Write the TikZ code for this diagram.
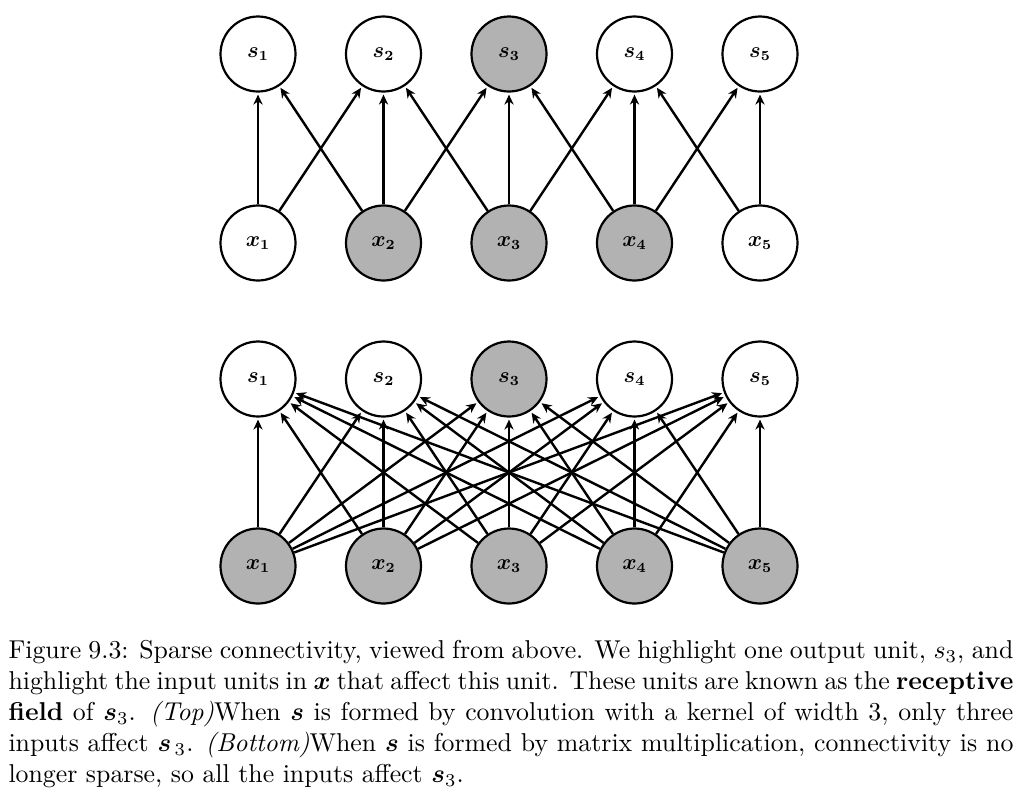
\documentclass[tikz,border=0pt]{standalone}
\usepackage{amsmath,amssymb,bm}
\usepackage{tikz}
\usetikzlibrary{arrows.meta}

\tikzset{
  unit/.style={circle,draw,line width=1.1pt,minimum size=37.5pt,inner sep=0pt,fill=white,font=\fontsize{10.5}{13}\selectfont},
  hot/.style={unit,fill=black!30},
  link/.style={->,line width=1.2pt,shorten >=1pt}
}

\begin{document}
\begin{tikzpicture}[x=0.5pt,y=-0.5pt,>={Stealth[length=5pt,width=4.6pt]}]
\useasboundingbox (0,0) rectangle (1023,799);
% Top: s from convolution, kernel width 3
\node[unit] (ts1) at (258,54) {$\bm{s_1}$};
\node[unit] (ts2) at (383.5,54) {$\bm{s_2}$};
\node[hot]  (ts3) at (509,54) {$\bm{s_3}$};
\node[unit] (ts4) at (634.5,54) {$\bm{s_4}$};
\node[unit] (ts5) at (760,54) {$\bm{s_5}$};
\node[unit] (tx1) at (258,243) {$\bm{x_1}$};
\node[hot]  (tx2) at (383.5,243) {$\bm{x_2}$};
\node[hot]  (tx3) at (509,243) {$\bm{x_3}$};
\node[hot]  (tx4) at (634.5,243) {$\bm{x_4}$};
\node[unit] (tx5) at (760,243) {$\bm{x_5}$};
\foreach \i/\j in {1/1,1/2,2/1,2/2,2/3,3/2,3/3,3/4,4/3,4/4,4/5,5/4,5/5}
  \draw[link] (tx\i) -- (ts\j);
% Bottom: s from matrix multiplication, dense
\node[unit] (bs1) at (258,379) {$\bm{s_1}$};
\node[unit] (bs2) at (383.5,379) {$\bm{s_2}$};
\node[hot]  (bs3) at (509,379) {$\bm{s_3}$};
\node[unit] (bs4) at (634.5,379) {$\bm{s_4}$};
\node[unit] (bs5) at (760,379) {$\bm{s_5}$};
\node[hot]  (bx1) at (258,566) {$\bm{x_1}$};
\node[hot]  (bx2) at (383.5,566) {$\bm{x_2}$};
\node[hot]  (bx3) at (509,566) {$\bm{x_3}$};
\node[hot]  (bx4) at (634.5,566) {$\bm{x_4}$};
\node[hot]  (bx5) at (760,566) {$\bm{x_5}$};
\foreach \i in {1,...,5}
  \foreach \j in {1,...,5}
    \draw[link] (bx\i) -- (bs\j);
% caption
\node[anchor=north west,inner sep=0pt,scale=1.29,text width=389.5pt,align=justify,font=\normalsize] (cap) at (8,640)
{Figure 9.3: Sparse connectivity, viewed from above. We highlight one output unit, $s_3$, and\linebreak
highlight the input units in $\bm{x}$ that affect this unit. These units are known as the \textbf{receptive\linebreak
field} of $\bm{s}_3$. \textit{(Top)}When $\bm{s}$ is formed by convolution with a kernel of width 3, only three\linebreak
inputs affect $\bm{s}_{\,3}$. \textit{(Bottom)}When $\bm{s}$ is formed by matrix multiplication, connectivity is no\linebreak
longer sparse, so all the inputs affect $\bm{s}_3$.};
\end{tikzpicture}
\end{document}
